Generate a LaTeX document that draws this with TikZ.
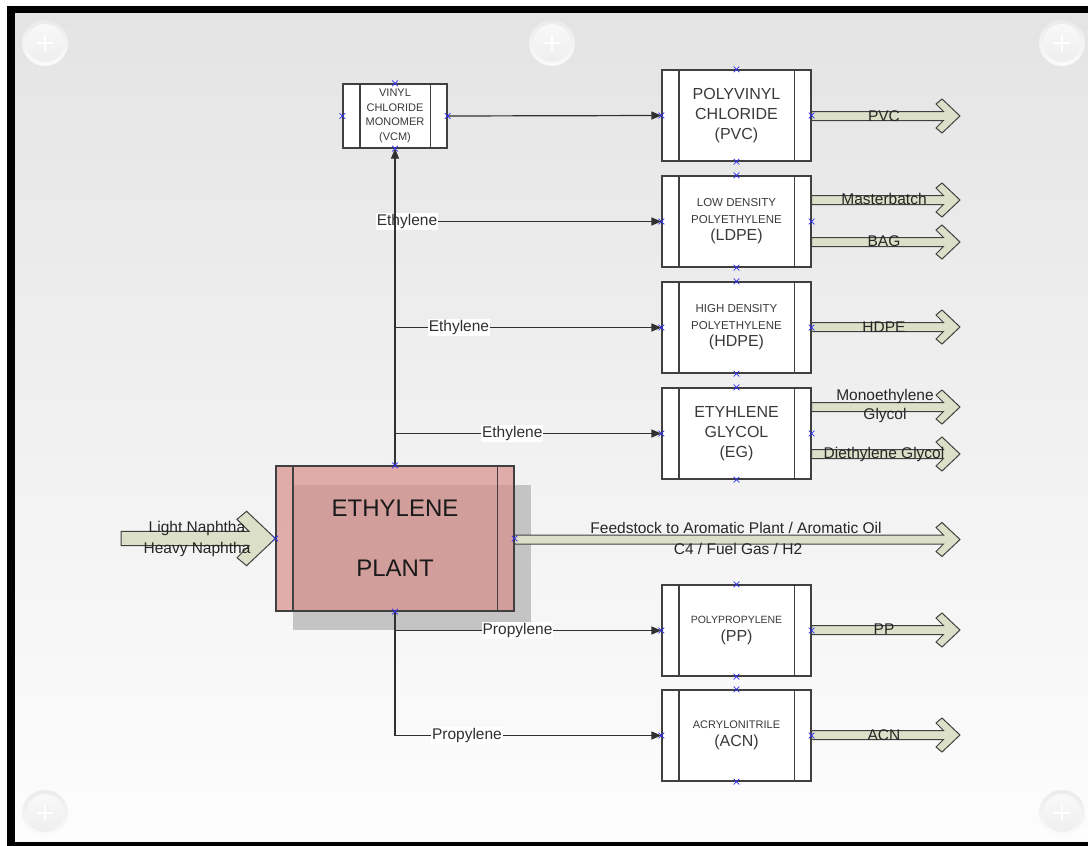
\documentclass[tikz,border=0pt]{standalone}
\usepackage{fontspec}
\setmainfont{Liberation Sans}
\usetikzlibrary{arrows.meta,calc,shapes.misc,shadows}
\definecolor{bgtop}{HTML}{E4E4E4}
\definecolor{bgbot}{HTML}{FDFDFD}
\definecolor{boxline}{HTML}{404040}
\definecolor{boxtxt}{HTML}{3A3A3A}
\definecolor{plantxt}{HTML}{1A1A1A}
\definecolor{connc}{HTML}{303030}
\definecolor{flabc}{HTML}{262626}
\definecolor{plantfill}{HTML}{D98F8B}
\definecolor{shadowc}{HTML}{C4C4C4}
\definecolor{arrfill}{HTML}{DDE0C8}
\definecolor{xblue}{HTML}{3030FF}
\newcommand\fsz[2]{\fontsize{#1}{#2}\selectfont}
\newcommand\fatarr[3]{%
  \filldraw[fatarrow] let \p1=(#1), \p2=(#2) in
    (\x1,\y2+4.5*#3) -- (\x2-16.5*#3,\y2+4.5*#3) -- (\x2-24*#3,\y2+12*#3) --
    (\x2-18*#3,\y2+17*#3) -- (\x2,\y2) -- (\x2-18*#3,\y2-17*#3) --
    (\x2-24*#3,\y2-12*#3) -- (\x2-16.5*#3,\y2-4.5*#3) -- (\x1,\y2-4.5*#3) -- cycle;}
\tikzset{
  proc/.style={draw=boxline, fill=white, line width=1.2pt, minimum width=149pt,
    minimum height=91pt, inner sep=0pt, align=center, text=boxtxt},
  conn/.style={draw=connc, line width=1.2pt},
  arr/.style={conn, -{Triangle[length=10pt,width=8pt]}},
  clab/.style={fill=white, inner sep=1pt, text=connc, font=\fsz{15.5}{18}},
  flab/.style={inner sep=0pt, text=flabc, font=\fsz{15.5}{19}, align=center},
  fatarrow/.style={fill=arrfill, draw=boxline, line width=1pt, line join=miter},
  xmark/.style={cross out, draw=xblue, minimum size=5pt, inner sep=0pt, line width=0.7pt},
}
\begin{document}
\begin{tikzpicture}[x=1pt,y=-1pt]
\useasboundingbox (0,0) rectangle (1088,846);
% background and frame
\fill[white] (0,0) rectangle (1088,846);
\shade[top color=bgtop, bottom color=bgbot] (15,13) rectangle (1088,842);
\fill[black] (7,6) rectangle (1088,13);
\fill[black] (7,6) rectangle (15,846);
\fill[black] (7,842) rectangle (1088,846);
% decorative plus circles
\foreach \c in {(45,43),(552,43),(1062,43),(45,813),(1062,813)}{
  \shade[top color=gray!16, bottom color=gray!3] \c circle (23);
  \shade[top color=gray!5, bottom color=gray!13] \c circle (19);
  \draw[white, line width=1.5pt] \c ++(-8,0) -- ++(16,0) \c ++(0,-8) -- ++(0,16);
}
% process boxes
\node[proc, minimum width=104pt, minimum height=64pt, font=\fsz{11}{14.5}] (vcm) at (395,116)
  {VINYL\\CHLORIDE\\MONOMER\\(VCM)};
\node[proc, font=\fsz{16}{20}] (pvc) at (736.5,115.5) {POLYVINYL\\CHLORIDE\\(PVC)};
\node[proc, font=\fsz{11.5}{17}] (ldpe) at (736.5,221.5)
  {LOW DENSITY\\POLYETHYLENE\\{\fsz{16}{17}(LDPE)}};
\node[proc, font=\fsz{11.5}{17}] (hdpe) at (736.5,327.5)
  {HIGH DENSITY\\POLYETHYLENE\\{\fsz{16}{17}(HDPE)}};
\node[proc, font=\fsz{16}{20}] (eg) at (736.5,433.5) {ETYHLENE\\GLYCOL\\(EG)};
\node[proc, font=\fsz{10.5}{18}] (pp) at (736.5,630.5) {POLYPROPYLENE\\{\fsz{16}{18}(PP)}};
\node[proc, font=\fsz{11}{18}] (acn) at (736.5,735.5) {ACRYLONITRILE\\{\fsz{16}{18}(ACN)}};
\node[proc, minimum width=238pt, minimum height=145pt, fill=plantfill, fill opacity=0.7,
  text opacity=1, text=plantxt, font=\fsz{24}{60},
  drop shadow={shadow xshift=17pt, shadow yshift=-19pt, fill=shadowc, opacity=1}]
  (plant) at (395,538.5) {ETHYLENE\\PLANT};
% inner dividers
\foreach \n in {vcm,pvc,ldpe,hdpe,eg,pp,acn,plant}{
  \draw[boxline, line width=1.2pt] ([xshift=17.5pt]\n.north west) -- ([xshift=17.5pt]\n.south west)
    ([xshift=-17.5pt]\n.north east) -- ([xshift=-17.5pt]\n.south east);
}
% connectors
\draw[arr] (vcm.east) -- (pvc.west);
\draw[arr] (plant.north |- ldpe.west) -- node[clab, pos=0.045] (l1) {Ethylene} (ldpe.west);
\draw[arr] (plant.north |- hdpe.west) -- node[clab, pos=0.24] (l2) {Ethylene} (hdpe.west);
\draw[arr] (plant.north |- eg.west) -- node[clab, pos=0.44] (l3) {Ethylene} (eg.west);
\draw[arr] (plant.north) -- (vcm.south);
\draw[arr] (plant.south |- pp.west) -- node[clab, pos=0.46] (l4) {Propylene} (pp.west);
\draw[arr] (plant.south |- acn.west) -- node[clab, pos=0.27] (l5) {Propylene} (acn.west);
\draw[conn] (plant.south) -- (plant.south |- acn.west);
% product (block) arrows
\coordinate (tPVC) at (960,116);
\coordinate (tMB) at (960,200);
\coordinate (tBAG) at (960,242);
\coordinate (tHDPE) at (960,327);
\coordinate (tMEG) at (960,407);
\coordinate (tDEG) at (960,454);
\coordinate (tFeed) at (960,539.5);
\coordinate (tPP) at (960,630);
\coordinate (tACN) at (960,735);
\coordinate (sNaph) at (121,539.5);
\fatarr{pvc.east}{tPVC}{1}
\fatarr{ldpe.east}{tMB}{1}
\fatarr{ldpe.east}{tBAG}{1}
\fatarr{hdpe.east}{tHDPE}{1}
\fatarr{eg.east}{tMEG}{1}
\fatarr{eg.east}{tDEG}{1}
\fatarr{plant.east}{tFeed}{1}
\fatarr{pp.east}{tPP}{1}
\fatarr{acn.east}{tACN}{1}
\fatarr{sNaph}{plant.west}{1.6}
% block-arrow labels
\node[flab] (fPVC) at (884,116) {PVC};
\node[flab] (fMB) at (884,199) {Masterbatch};
\node[flab] (fBAG) at (884,241) {BAG};
\node[flab] (fHDPE) at (884,327) {HDPE};
\node[flab] (fMEG) at (885,405.5) {Monoethylene\\Glycol};
\node[flab] (fDEG) at (884,454) {Diethylene Glycol};
\node[flab] (fPP) at (884,629) {PP};
\node[flab] (fACN) at (884,735) {ACN};
\node[flab] (fFeed1) at (736,528) {Feedstock to Aromatic Plant / Aromatic Oil};
\node[flab] (fFeed2) at (738,549) {C4 / Fuel Gas / H2};
\node[flab] (fN1) at (197,528) {Light Naphtha};
\node[flab] (fN2) at (197,549) {Heavy Naphtha};
% connection point markers
\foreach \n in {vcm,pvc,ldpe,hdpe,eg,pp,acn,plant}{
  \foreach \a in {north,south,east,west}{
    \node[xmark] at (\n.\a) {};
  }
}
\end{tikzpicture}
\end{document}
